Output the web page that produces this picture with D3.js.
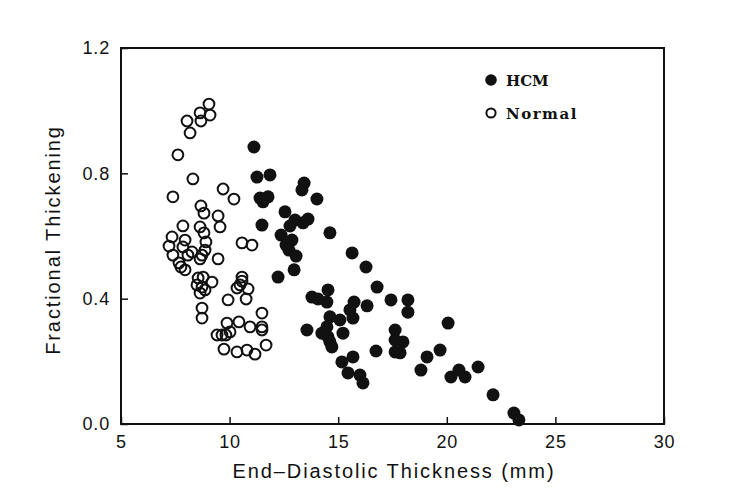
<!DOCTYPE html>
<html>
<head>
<meta charset="utf-8">
<script src="https://cdn.jsdelivr.net/npm/d3@7"></script>
<style>
  html, body { margin: 0; padding: 0; background: #fff; }
  svg { display: block; }
</style>
</head>
<body>
<svg id="chart" width="750" height="497"></svg>
<script>
// HCM (filled) points: end-diastolic thickness (mm), fractional thickening
const hcmX = [11.12,11.26,11.86,13.43,13.33,11.40,11.77,11.54,14.02,12.55,11.49,13.01,13.61,12.78,13.38,14.62,12.37,12.87,12.60,12.73,13.06,15.64,12.97,12.23,16.28,16.79,14.53,13.79,14.07,14.48,15.73,16.33,17.43,18.21,18.21,15.54,14.62,15.08,15.68,13.56,14.48,14.25,14.53,15.22,14.62,14.71,20.06,17.62,17.62,17.98,17.62,17.85,16.74,19.69,19.09,15.17,15.68,15.45,16.00,16.14,18.81,20.56,20.19,20.84,21.44,22.13,23.09,23.32];
const hcmY = [0.884,0.788,0.795,0.769,0.747,0.721,0.725,0.709,0.718,0.677,0.635,0.651,0.654,0.632,0.642,0.610,0.603,0.587,0.571,0.555,0.536,0.546,0.492,0.469,0.501,0.437,0.428,0.405,0.399,0.389,0.389,0.377,0.396,0.396,0.357,0.364,0.342,0.332,0.338,0.300,0.310,0.290,0.278,0.290,0.262,0.246,0.322,0.300,0.268,0.262,0.230,0.227,0.233,0.236,0.214,0.198,0.214,0.163,0.156,0.131,0.172,0.172,0.150,0.150,0.182,0.093,0.035,0.013];

// Normal (open) points
const normX = [9.05,8.64,9.10,8.04,8.68,8.18,7.62,8.31,9.70,7.39,10.20,8.68,8.82,9.47,9.56,7.85,8.64,8.82,7.35,7.95,7.21,7.85,8.91,8.87,7.39,8.08,8.27,7.67,7.95,7.76,8.64,8.73,9.47,10.57,11.03,10.57,10.57,8.55,8.78,9.19,8.50,8.73,8.64,8.87,10.34,10.85,10.48,9.93,10.76,8.73,8.73,11.49,9.42,9.65,9.83,10.02,9.88,10.43,10.94,11.49,11.49,9.74,10.34,10.80,11.17,11.68];
const normY = [1.021,0.993,0.986,0.967,0.967,0.929,0.859,0.782,0.750,0.725,0.718,0.696,0.673,0.664,0.629,0.632,0.629,0.610,0.597,0.587,0.568,0.565,0.581,0.555,0.539,0.539,0.549,0.514,0.492,0.501,0.527,0.539,0.527,0.578,0.571,0.469,0.456,0.466,0.469,0.453,0.444,0.437,0.418,0.428,0.434,0.431,0.444,0.396,0.399,0.370,0.338,0.354,0.284,0.284,0.284,0.294,0.322,0.326,0.310,0.300,0.310,0.239,0.230,0.236,0.223,0.252];

const xTicks = [5, 10, 15, 20, 25, 30];
const yTicks = [0.0, 0.4, 0.8, 1.2];
const seriesNames = ["HCM", "Normal"];
const xTitle = "End\u2013Diastolic Thickness (mm)";
const yTitle = "Fractional Thickening";

(function () {
const svg = d3.select("#chart");
const mLeft = 121, mRight = 664, mTop = 48, mBottom = 424;

const x = d3.scaleLinear().domain([5, 30]).range([mLeft, mRight]);
const y = d3.scaleLinear().domain([0, 1.2]).range([mBottom, mTop]);

const ink = "#111";
const sans = "Liberation Sans, Arial, sans-serif";

// frame
svg.append("rect")
  .attr("x", mLeft).attr("y", mTop)
  .attr("width", mRight - mLeft).attr("height", mBottom - mTop)
  .attr("fill", "none").attr("stroke", ink).attr("stroke-width", 2);

// x axis
const xAxis = d3.axisBottom(x).tickValues(xTicks).tickSizeInner(-7).tickSizeOuter(0).tickPadding(11)
  .tickFormat(d3.format("d"));
const gx = svg.append("g").attr("transform", `translate(0,${mBottom})`).call(xAxis);
gx.select(".domain").remove();
gx.selectAll(".tick line").attr("stroke", ink).attr("stroke-width", 1.5);
gx.selectAll(".tick text").attr("font-family", sans)
  .attr("font-size", 18).attr("letter-spacing", 0.8).attr("fill", ink);

// y axis
const yAxis = d3.axisLeft(y).tickValues(yTicks).tickSizeInner(-7).tickSizeOuter(0).tickPadding(11)
  .tickFormat(d3.format(".1f"));
const gy = svg.append("g").attr("transform", `translate(${mLeft},0)`).call(yAxis);
gy.select(".domain").remove();
gy.selectAll(".tick line").attr("stroke", ink).attr("stroke-width", 1.5);
gy.selectAll(".tick text").attr("font-family", sans)
  .attr("font-size", 18).attr("letter-spacing", 0.8).attr("fill", ink);

// titles
svg.append("text")
  .attr("x", 394).attr("y", 478)
  .attr("text-anchor", "middle")
  .attr("font-family", sans)
  .attr("font-size", 20).attr("letter-spacing", 1.9).attr("fill", ink)
  .text(xTitle);

svg.append("text")
  .attr("transform", `translate(60,240) rotate(-90)`)
  .attr("text-anchor", "middle")
  .attr("font-family", sans)
  .attr("font-size", 20).attr("letter-spacing", 1.9).attr("fill", ink)
  .text(yTitle);

// points
const hcm = hcmX.map((v, i) => ({ x: v, y: hcmY[i] }));
const norm = normX.map((v, i) => ({ x: v, y: normY[i] }));

svg.append("g").selectAll("circle").data(norm).join("circle")
  .attr("cx", d => x(d.x)).attr("cy", d => y(d.y)).attr("r", 5.4)
  .attr("fill", "none").attr("stroke", ink).attr("stroke-width", 2);

svg.append("g").selectAll("circle").data(hcm).join("circle")
  .attr("cx", d => x(d.x)).attr("cy", d => y(d.y)).attr("r", 6.5)
  .attr("fill", ink);

// legend
const legend = svg.append("g");
const legY = [80, 113];
legend.append("circle").attr("cx", 491).attr("cy", legY[0]).attr("r", 5.8).attr("fill", ink);
legend.append("circle").attr("cx", 491).attr("cy", legY[1]).attr("r", 4.6)
  .attr("fill", "none").attr("stroke", ink).attr("stroke-width", 2);
seriesNames.forEach((n, i) => {
  legend.append("text").attr("x", 506).attr("y", legY[i] + 6)
    .attr("font-family", "DejaVu Serif, serif").attr("font-weight", "bold")
    .attr("font-size", 15).attr("letter-spacing", i === 1 ? 1.5 : 0).attr("fill", ink).text(n);
});
})();
</script>
</body>
</html>
